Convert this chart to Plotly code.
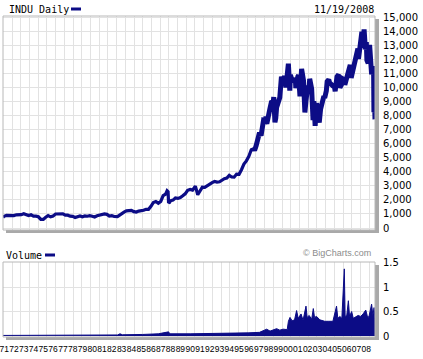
import plotly.graph_objects as go

# ---------------- data ----------------
dj_dates_early = [
    "1970-11-19", "1970-12-31", "1971-03-31", "1971-06-30", "1971-09-30", "1971-12-31",
    "1972-03-31", "1972-06-30", "1972-09-30", "1972-12-31", "1973-03-31", "1973-06-30",
    "1973-09-30", "1973-12-31", "1974-03-31", "1974-06-30", "1974-09-30", "1974-12-31",
    "1975-03-31", "1975-06-30", "1975-09-30", "1975-12-31", "1976-03-31", "1976-06-30",
    "1976-09-30", "1976-12-31", "1977-03-31", "1977-06-30", "1977-09-30", "1977-12-31",
    "1978-03-31", "1978-06-30", "1978-09-30", "1978-12-31", "1979-03-31", "1979-06-30",
    "1979-09-30", "1979-12-31", "1980-03-31", "1980-06-30", "1980-09-30", "1980-12-31",
    "1981-03-31", "1981-06-30", "1981-09-30", "1981-12-31", "1982-03-31", "1982-07-31",
    "1982-09-30", "1982-12-31", "1983-03-31", "1983-06-30", "1983-09-30", "1983-12-31",
    "1984-03-31", "1984-06-30", "1984-09-30", "1984-12-31", "1985-03-31", "1985-06-30",
    "1985-09-30", "1985-12-31", "1986-03-31", "1986-06-30", "1986-09-30", "1986-12-31",
    "1987-03-31", "1987-06-30", "1987-08-25", "1987-09-30", "1987-10-19", "1987-11-30",
    "1987-12-31", "1988-03-31", "1988-06-30", "1988-09-30", "1988-12-31", "1989-03-31",
    "1989-06-30", "1989-09-30", "1989-12-31", "1990-03-31", "1990-07-15", "1990-10-11",
    "1990-12-31", "1991-03-31", "1991-06-30", "1991-09-30", "1991-12-31", "1992-03-31",
    "1992-06-30", "1992-09-30", "1992-12-31", "1993-03-31", "1993-06-30", "1993-09-30",
    "1993-12-31", "1994-03-31", "1994-06-30", "1994-09-30", "1994-12-31", "1995-03-31",
    "1995-06-30", "1995-09-30", "1995-12-31", "1996-03-31", "1996-06-30",
]
dj_values_early = [
    760, 830, 900, 890, 885, 890,
    940, 930, 950, 1020, 950, 890,
    945, 850, 845, 800, 610, 615,
    770, 880, 795, 850, 1000, 1000,
    990, 1005, 920, 915, 845, 830,
    755, 820, 865, 805, 860, 840,
    875, 840, 785, 870, 930, 965,
    1005, 975, 850, 875, 820, 810,
    895, 1045, 1130, 1220, 1235, 1260,
    1165, 1135, 1205, 1210, 1265, 1335,
    1330, 1545, 1820, 1890, 1770, 1895,
    2305, 2420, 2660, 2595, 1780, 1835,
    1940, 1990, 2140, 2110, 2170, 2295,
    2440, 2690, 2755, 2705, 2990, 2370,
    2635, 2915, 2905, 3015, 3170, 3235,
    3320, 3270, 3300, 3435, 3515, 3555,
    3755, 3635, 3625, 3845, 3835, 4160,
    4555, 4790, 5115, 5585, 5655,
]

dj_dates_late = [
    "1996-06-30", "1996-07-31", "1996-09-30", "1996-11-30", "1996-12-31",
    "1997-01-31", "1997-03-31", "1997-04-30", "1997-06-30", "1997-08-31", "1997-09-30",
    "1997-10-31", "1997-11-30", "1997-12-31", "1998-02-28", "1998-04-30", "1998-06-30",
    "1998-07-17", "1998-08-31", "1998-09-30", "1998-10-31", "1998-12-31", "1999-02-28",
    "1999-04-30", "1999-05-31", "1999-07-31", "1999-08-31", "1999-10-15", "1999-12-31",
    "2000-01-14", "2000-03-07", "2000-03-31", "2000-05-31", "2000-07-31", "2000-09-30",
    "2000-10-18", "2000-12-31", "2001-01-31", "2001-03-22", "2001-05-21", "2001-07-31",
    "2001-09-21", "2001-10-31", "2001-12-31", "2002-02-28", "2002-03-19", "2002-05-31",
    "2002-06-30", "2002-07-23", "2002-08-22", "2002-10-09", "2002-11-30", "2002-12-31",
    "2003-03-11", "2003-04-30", "2003-06-30", "2003-08-31", "2003-09-30", "2003-11-30",
    "2003-12-31", "2004-02-28", "2004-03-31", "2004-05-31", "2004-07-31", "2004-09-30",
    "2004-10-25", "2004-12-31", "2005-03-04", "2005-04-20", "2005-06-30", "2005-07-31",
    "2005-09-30", "2005-10-20", "2005-12-31", "2006-02-28", "2006-05-10", "2006-06-13",
    "2006-08-31", "2006-10-31", "2006-12-31", "2007-02-20", "2007-03-14", "2007-05-31",
    "2007-07-19", "2007-08-16", "2007-09-30", "2007-10-09", "2007-11-26", "2007-12-31",
    "2008-01-22", "2008-03-10", "2008-05-02", "2008-06-30", "2008-07-15", "2008-08-31",
    "2008-09-30", "2008-10-10", "2008-10-31", "2008-11-19",
]
dj_values_late = [
    5655, 5530, 5880, 6520, 6450,
    6810, 6585, 7010, 7670, 7620, 7945,
    7440, 7820, 7910, 8545, 9060, 8950,
    9340, 7540, 7840, 8590, 9180, 9305,
    10790, 10560, 10655, 10830, 10020, 11500,
    11720, 9800, 10920, 10520, 10520, 10650,
    9980, 10790, 10890, 9390, 11340, 10520,
    8240, 9075, 10020, 10105, 10640, 9925,
    9245, 7700, 9050, 7290, 8900, 8340,
    7520, 8480, 8985, 9415, 9275, 9780,
    10455, 10585, 10360, 10190, 10140, 10080,
    9750, 10785, 10940, 10010, 10275, 10640,
    10570, 10210, 10720, 10995, 11640, 10710,
    11380, 12080, 12465, 12790, 12050, 13630,
    14000, 12850, 13895, 14160, 12740, 13265,
    11970, 11740, 13060, 11350, 10960, 11545,
    10850, 8250, 9325, 7750,
]

vol_dates = [
    "1970-11-19", "1975-01-01", "1980-01-01", "1982-08-01", "1982-11-01", "1983-02-01",
    "1985-03-01", "1986-10-01", "1987-10-19", "1987-12-01", "1990-01-01", "1992-01-01",
    "1994-01-01", "1996-01-01", "1997-02-01", "1997-10-27", "1998-03-01", "1998-11-01",
    "1999-03-01", "1999-07-01", "1999-12-01", "2000-01-15", "2000-03-15", "2000-06-01",
    "2000-09-01", "2000-11-15", "2001-01-15", "2001-05-01", "2001-07-15", "2001-11-01",
    "2001-12-15", "2002-03-01", "2002-06-01", "2002-08-01", "2002-09-15", "2002-12-01",
    "2003-04-01", "2003-07-01", "2003-10-01", "2004-03-01", "2004-08-01", "2004-12-15",
    "2005-02-01", "2005-04-15", "2005-07-01", "2005-10-01", "2005-11-01", "2006-01-01",
    "2006-03-01", "2006-04-15", "2006-07-01", "2006-09-01", "2006-12-01", "2007-03-01",
    "2007-06-01", "2007-09-01", "2007-12-10", "2008-02-01", "2008-04-01", "2008-07-15",
    "2008-09-01", "2008-10-15", "2008-11-19",
]
vol_values = [
    0.012, 0.014, 0.018, 0.022, 0.045, 0.025,
    0.032, 0.045, 0.085, 0.045, 0.045, 0.048,
    0.055, 0.065, 0.075, 0.14, 0.10, 0.15,
    0.12, 0.14, 0.13, 0.30, 0.38, 0.31,
    0.33, 0.52, 0.36, 0.45, 0.32, 0.61,
    0.38, 0.42, 0.34, 0.56, 0.38, 0.40,
    0.33, 0.32, 0.30, 0.30, 0.30, 0.61,
    0.36, 0.40, 0.36, 1.37, 0.40, 0.42,
    0.72, 0.40, 0.50, 0.36, 0.40, 0.42,
    0.40, 0.45, 0.53, 0.42, 0.38, 0.65,
    0.42, 0.58, 0.35,
]

year_ticks = [f"{y}-01-01" for y in range(1971, 2009)]
year_labels = [f"{y % 100:02d}" for y in range(1971, 2009)]

price_ticks = list(range(0, 15001, 1000))
vol_ticks = [0, 0.5, 1, 1.5]
vol_labels = ["0", "0.5", "1", "1.5"]

# ---------------- layout helpers ----------------
W, H = 423, 359
ML, MR, MT, MB = 3, 48, 16, 22
PW = W - ML - MR
PH = H - MT - MB


def xp(px):
    return (px - ML) / PW


def yp(py):
    return (H - MB - py) / PH


NAVY = "#0c0c86"
GRID = "#e2e2e2"
SHADOW = "#a9a9a9"
BORDER = "#b8b8b8"
XRANGE = ["1970-11-19", "2008-11-19"]
MINOR_MS = 0.89 * 365.25 * 86400000

fig = go.Figure()
fig.add_trace(go.Scatter(x=dj_dates_early, y=dj_values_early, mode="lines",
                         line=dict(color=NAVY, width=3.2), xaxis="x", yaxis="y",
                         hoverinfo="skip"))
fig.add_trace(go.Scatter(x=dj_dates_late, y=dj_values_late, mode="lines",
                         line=dict(color=NAVY, width=5), xaxis="x", yaxis="y",
                         hoverinfo="skip"))
fig.add_trace(go.Scatter(x=vol_dates, y=vol_values, mode="lines", fill="tozeroy",
                         fillcolor=NAVY, line=dict(color=NAVY, width=1),
                         xaxis="x2", yaxis="y2", hoverinfo="skip"))

common_x = dict(type="date", range=XRANGE, showgrid=False, zeroline=False,
                showline=False, ticks="", automargin=False,
                minor=dict(showgrid=True, gridcolor=GRID, gridwidth=1,
                           tick0="1970-12-01", dtick=MINOR_MS, ticks=""))

shapes = []
for top, bot in [(16, 230), (262, 337)]:
    shapes.append(dict(type="rect", xref="paper", yref="paper",
                       x0=xp(375), x1=xp(379), y0=yp(top + 3), y1=yp(bot + 3),
                       fillcolor=SHADOW, line=dict(width=0), layer="below"))
    shapes.append(dict(type="rect", xref="paper", yref="paper",
                       x0=xp(6), x1=xp(379), y0=yp(bot), y1=yp(bot + 3),
                       fillcolor=SHADOW, line=dict(width=0), layer="below"))
    shapes.append(dict(type="rect", xref="paper", yref="paper",
                       x0=xp(3), x1=xp(375), y0=yp(bot), y1=yp(top),
                       fillcolor="rgba(0,0,0,0)", line=dict(color=BORDER, width=1)))
# legend dashes
shapes.append(dict(type="rect", xref="paper", yref="paper",
                   x0=xp(71), x1=xp(81), y0=yp(10.5), y1=yp(7.5),
                   fillcolor=NAVY, line=dict(width=0)))
shapes.append(dict(type="rect", xref="paper", yref="paper",
                   x0=xp(45), x1=xp(55), y0=yp(256.5), y1=yp(253.5),
                   fillcolor=NAVY, line=dict(width=0)))

mono = dict(family="DejaVu Sans Mono", size=10, color="#000000")
annotations = [
    dict(text="INDU Daily", x=xp(7), y=yp(9.5), xref="paper", yref="paper",
         xanchor="left", yanchor="middle", showarrow=False, font=mono),
    dict(text="11/19/2008", x=xp(376), y=yp(9.5), xref="paper", yref="paper",
         xanchor="right", yanchor="middle", showarrow=False, font=mono),
    dict(text="Volume", x=xp(4), y=yp(255), xref="paper", yref="paper",
         xanchor="left", yanchor="middle", showarrow=False, font=mono),
    dict(text="© BigCharts.com", x=xp(373), y=yp(253), xref="paper", yref="paper",
         xanchor="right", yanchor="middle", showarrow=False,
         font=dict(family="Liberation Sans", size=9, color="#8c8c8c")),
]

fig.update_layout(
    width=W, height=H,
    margin=dict(l=ML, r=MR, t=MT, b=MB, pad=0, autoexpand=False),
    paper_bgcolor="white", plot_bgcolor="white",
    showlegend=False,
    xaxis=dict(domain=[0, 1], anchor="y", showticklabels=False, **common_x),
    yaxis=dict(domain=[yp(230), 1], range=[-142, 15121], side="right",
               tickmode="array", tickvals=price_ticks, tickformat=",d",
               showgrid=True, gridcolor=GRID, zeroline=False, showline=False,
               ticks="", ticklabelstandoff=7, automargin=False,
               tickfont=dict(family="DejaVu Sans", size=10, color="#000000")),
    xaxis2=dict(domain=[0, 1], anchor="y2", tickmode="array", tickvals=year_ticks,
                ticktext=year_labels, tickangle=0, ticklabelstandoff=5,
                ticklabeloverflow="allow",
                tickfont=dict(family="Liberation Sans", size=8.5, color="#000000"),
                **common_x),
    yaxis2=dict(domain=[0, yp(262)], range=[-0.02, 1.51], side="right",
                tickmode="array", tickvals=vol_ticks, ticktext=vol_labels,
                showgrid=True, gridcolor=GRID, zeroline=False, showline=False,
                ticks="", ticklabelstandoff=7, automargin=False,
                tickfont=dict(family="DejaVu Sans", size=10, color="#000000")),
    shapes=shapes,
    annotations=annotations,
)

fig.write_html("out.html", config={"displayModeBar": False, "staticPlot": True},
               post_script="document.body.style.margin='0';")
